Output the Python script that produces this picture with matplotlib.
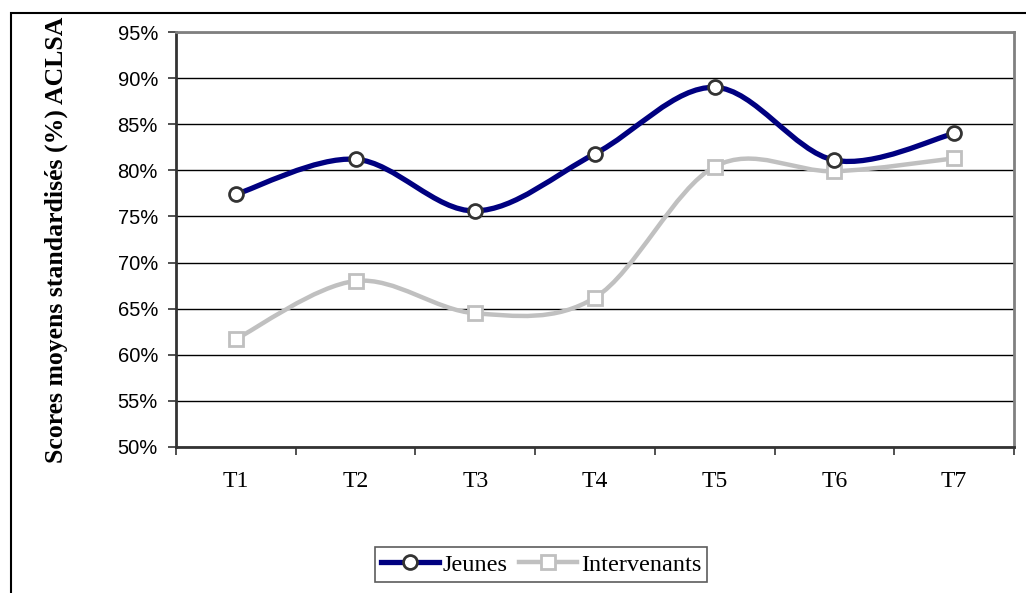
import matplotlib
matplotlib.use("Agg")
import matplotlib.pyplot as plt
from matplotlib.path import Path
from matplotlib.patches import PathPatch, Rectangle
from matplotlib.lines import Line2D
from matplotlib.ticker import FixedLocator, PercentFormatter

categories = ["T1", "T2", "T3", "T4", "T5", "T6", "T7"]
jeunes = [77.4, 81.2, 75.6, 81.8, 89.0, 81.1, 84.0]
intervenants = [61.7, 68.0, 64.5, 66.2, 80.4, 79.9, 81.3]

NAVY = "#000080"
GREY = "#C0C0C0"


def smooth_path(xs, ys):
    # Excel-like smoothed line: cubic Bezier segments through the points
    verts = [(xs[0], ys[0])]
    codes = [Path.MOVETO]
    n = len(xs)
    for i in range(n - 1):
        x0, y0 = (xs[i - 1], ys[i - 1]) if i > 0 else (xs[i], ys[i])
        x3, y3 = (xs[i + 2], ys[i + 2]) if i + 2 < n else (xs[i + 1], ys[i + 1])
        c1 = (xs[i] + (xs[i + 1] - x0) / 6, ys[i] + (ys[i + 1] - y0) / 6)
        c2 = (xs[i + 1] - (x3 - xs[i]) / 6, ys[i + 1] - (y3 - ys[i]) / 6)
        verts += [c1, c2, (xs[i + 1], ys[i + 1])]
        codes += [Path.CURVE4] * 3
    return Path(verts, codes)


fig = plt.figure(figsize=(10.26, 5.93), dpi=100)
ax = fig.add_axes([176 / 1026, 1 - 447 / 593, (1014 - 176) / 1026, (447 - 32) / 593])

x = list(range(len(categories)))

# outer chart border (only left and top edges visible)
fig.add_artist(Rectangle((11 / 1026, -0.1), 1.2, 1 - 13 / 593 + 0.1,
                         transform=fig.transFigure, fill=False,
                         edgecolor="black", linewidth=1.5))

ax.add_patch(PathPatch(smooth_path(x, intervenants), fill=False,
                       edgecolor=GREY, linewidth=3.2, zorder=3))
ax.plot(x, intervenants, linestyle="none", marker="s", markersize=9.5,
        markerfacecolor="white", markeredgecolor=GREY, markeredgewidth=2, zorder=4)

ax.add_patch(PathPatch(smooth_path(x, jeunes), fill=False,
                       edgecolor=NAVY, linewidth=3.8, zorder=5))
ax.plot(x, jeunes, linestyle="none", marker="o", markersize=10,
        markerfacecolor="white", markeredgecolor="#333333", markeredgewidth=2, zorder=6)

ax.set_xlim(-0.5, len(categories) - 0.5)
ax.set_ylim(50, 95)
ax.yaxis.set_major_locator(FixedLocator(list(range(50, 96, 5))))
ax.yaxis.set_major_formatter(PercentFormatter(decimals=0))
ax.grid(axis="y", color="black", linewidth=1)
ax.set_axisbelow(True)

ax.set_xticks([i + 0.5 for i in range(-1, len(categories))])
ax.set_xticklabels([])
ax.set_xticks(x, minor=True)
ax.set_xticklabels(categories, minor=True, fontfamily="Liberation Serif", fontsize=17)
ax.tick_params(axis="x", which="minor", length=0, pad=17)
ax.tick_params(axis="x", which="major", length=5.5, direction="out", width=1.2,
               color="#333333")
ax.tick_params(axis="y", length=6, direction="out", width=1.2, pad=7, color="#333333")
for lab in ax.get_yticklabels():
    lab.set_fontfamily("Liberation Sans")
    lab.set_fontsize(14.5)

for side in ("top", "right"):
    ax.spines[side].set_color("#808080")
    ax.spines[side].set_linewidth(2)
ax.spines["left"].set_color("#333333")
ax.spines["left"].set_linewidth(2)
ax.spines["bottom"].set_color("#333333")
ax.spines["bottom"].set_linewidth(2)

fig.text(56 / 1026, 1 - 240 / 593, "Scores moyens standardisés (%) ACLSA",
         rotation=90, ha="center", va="center", fontfamily="Liberation Serif",
         fontweight="bold", fontsize=18.5)

handles = [
    Line2D([], [], color=NAVY, linewidth=3.8, marker="o", markersize=10,
           markerfacecolor="white", markeredgecolor="#333333", markeredgewidth=2),
    Line2D([], [], color=GREY, linewidth=3.2, marker="s", markersize=9.5,
           markerfacecolor="white", markeredgecolor=GREY, markeredgewidth=2),
]
leg = fig.legend(handles, ["Jeunes", "Intervenants"], loc="center",
                 bbox_to_anchor=(541 / 1026, 1 - 564.5 / 593), ncol=2,
                 frameon=True, fancybox=False, edgecolor="#333333",
                 prop={"family": "Liberation Serif", "size": 17.5},
                 handlelength=2.4, handletextpad=0.15, columnspacing=0.45,
                 borderpad=0.25, borderaxespad=0)
leg.get_frame().set_linewidth(1.2)

fig.savefig("out.png", dpi=100)
